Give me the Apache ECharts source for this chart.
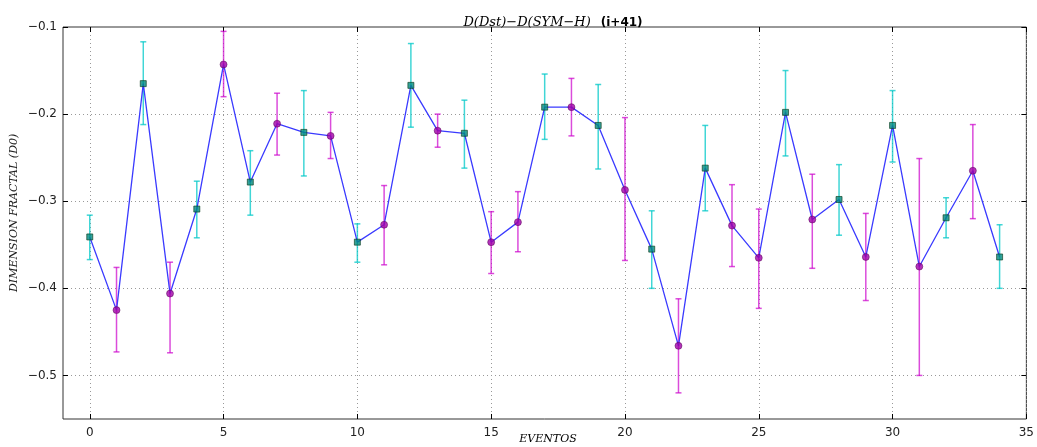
<!DOCTYPE html>
<html>
<head>
<meta charset="utf-8">
<script src="https://cdn.jsdelivr.net/npm/echarts@6/dist/echarts.min.js"></script>
<style>
html, body { margin: 0; padding: 0; background: #fff; }
#chart { width: 1037px; height: 447px; }
</style>
</head>
<body>
<div id="chart"></div>
<script>
// datos
var eventos = [0,1,2,3,4,5,6,7,8,9,10,11,12,13,14,15,16,17,18,19,20,21,22,23,24,25,26,27,28,29,30,31,32,33,34];
var d0 = [-0.341,-0.425,-0.165,-0.406,-0.309,-0.143,-0.278,-0.211,-0.221,-0.225,
          -0.347,-0.327,-0.167,-0.219,-0.222,-0.347,-0.324,-0.192,-0.192,-0.213,
          -0.287,-0.355,-0.466,-0.262,-0.328,-0.365,-0.198,-0.321,-0.298,-0.364,
          -0.213,-0.375,-0.319,-0.265,-0.364];
var errSup = [-0.316,-0.376,-0.117,-0.370,-0.277,-0.105,-0.242,-0.176,-0.173,-0.198,
              -0.326,-0.282,-0.119,-0.200,-0.184,-0.312,-0.289,-0.154,-0.159,-0.166,
              -0.204,-0.311,-0.412,-0.213,-0.281,-0.309,-0.150,-0.269,-0.258,-0.314,
              -0.173,-0.251,-0.296,-0.212,-0.327];
var errInf = [-0.367,-0.473,-0.212,-0.474,-0.342,-0.180,-0.316,-0.247,-0.271,-0.251,
              -0.370,-0.373,-0.215,-0.238,-0.262,-0.383,-0.358,-0.229,-0.225,-0.263,
              -0.368,-0.400,-0.520,-0.311,-0.375,-0.423,-0.248,-0.377,-0.339,-0.414,
              -0.255,-0.500,-0.342,-0.320,-0.400];
// 1 = cian (cuadrado), 0 = magenta (circulo)
var tipo = [1,0,1,0,1,0,1,0,1,0,1,0,1,0,1,0,0,1,0,1,0,1,0,1,0,0,1,0,1,0,1,0,1,0,1];
var xTicks = [0,5,10,15,20,25,30,35];
var yTicks = [-0.5,-0.4,-0.3,-0.2,-0.1];

var chart = echarts.init(document.getElementById('chart'));

var cian = [], magenta = [], barras = [], linea = [];
for (var i = 0; i < eventos.length; i++) {
    linea.push([eventos[i], d0[i]]);
    if (tipo[i] == 1) cian.push([eventos[i], d0[i]]);
    else magenta.push([eventos[i], d0[i]]);
    barras.push([eventos[i], errInf[i], errSup[i], tipo[i]]);
}

var fmt = function(v) {
    return String(v).replace('-', '\u2212');
};

var rejilla = { show: true, lineStyle: { color: '#999', type: [1, 3] } };
var sinLinea = { show: false, onZero: false };

option = {
    backgroundColor: '#fff',
    animation: false,
    title: {
        text: '{m|D(Dst)\u2212D(SYM\u2212H)}  {n|(i+41)}',
        left: 548, top: 9, textAlign: 'center',
        textStyle: {
            rich: {
                m: { fontFamily: 'DejaVu Serif', fontStyle: 'italic', fontWeight: 'normal', fontSize: 13, color: '#000' },
                n: { fontFamily: 'DejaVu Sans', fontWeight: 'bold', fontSize: 12, color: '#000' }
            }
        }
    },
    grid: {
        left: 63, right: 5, top: 27, bottom: 28,
        show: true, borderColor: '#333', borderWidth: 1, backgroundColor: '#fff'
    },
    xAxis: [
        { type: 'value', min: -1, max: 35,
          axisLine: sinLinea,
          axisTick: { inside: true, length: 5, customValues: xTicks, lineStyle: { color: '#000' } },
          splitLine: rejilla,
          axisLabel: { customValues: xTicks, color: '#222', fontFamily: 'DejaVu Sans', fontSize: 12, margin: 8,
                       formatter: fmt } },
        { type: 'value', min: -1, max: 35, position: 'top',
          axisLine: sinLinea, axisLabel: { show: false }, splitLine: { show: false },
          axisTick: { inside: true, length: 5, customValues: xTicks, lineStyle: { color: '#000' } } }],
    yAxis: [
        { type: 'value', min: -0.55, max: -0.1,
          axisLine: sinLinea,
          axisTick: { inside: true, length: 5, customValues: yTicks, lineStyle: { color: '#000' } },
          splitLine: rejilla,
          axisLabel: { customValues: yTicks, color: '#222', fontFamily: 'DejaVu Sans', fontSize: 12, margin: 6,
                       formatter: function(v) { return fmt(v.toFixed(1)); } } },
        { type: 'value', min: -0.55, max: -0.1, position: 'right',
          axisLine: sinLinea, axisLabel: { show: false }, splitLine: { show: false },
          axisTick: { inside: true, length: 5, customValues: yTicks, lineStyle: { color: '#000' } } }],
    graphic: [
        { type: 'text', x: 548, y: 434, style: {
            text: 'EVENTOS', font: 'italic 11px "DejaVu Serif"', fill: '#000', align: 'center' } },
        { type: 'text', x: 9, y: 292, rotation: Math.PI / 2, style: {
            text: 'DIMENSION FRACTAL (D0)', font: 'italic 11px "DejaVu Serif"', fill: '#222' } }
    ],
    series: [
        {
            type: 'custom',
            data: barras,
            z: 2,
            renderItem: function(params, api) {
                var x = api.value(0);
                var p1 = api.coord([x, api.value(1)]);
                var p2 = api.coord([x, api.value(2)]);
                var col = api.value(3) == 1 ? 'rgba(0,200,200,0.75)' : 'rgba(204,0,204,0.7)';
                var c = 3;
                return {
                    type: 'group',
                    children: [
                        { type: 'line', shape: { x1: p1[0], y1: p1[1], x2: p2[0], y2: p2[1] }, style: { stroke: col, lineWidth: 1.5 } },
                        { type: 'line', shape: { x1: p1[0] - c, y1: p1[1], x2: p1[0] + c, y2: p1[1] }, style: { stroke: col, lineWidth: 1.5 } },
                        { type: 'line', shape: { x1: p2[0] - c, y1: p2[1], x2: p2[0] + c, y2: p2[1] }, style: { stroke: col, lineWidth: 1.5 } }
                    ]
                };
            }
        },
        {
            type: 'line',
            data: linea,
            z: 3,
            showSymbol: false,
            symbol: 'none',
            lineStyle: { color: '#3a3aff', width: 1.3 }
        },
        {
            type: 'scatter',
            data: cian,
            z: 4,
            symbol: 'rect',
            symbolSize: 6,
            itemStyle: { color: '#008a80', borderColor: '#0a3a1a', borderWidth: 0.8 }
        },
        {
            type: 'scatter',
            data: magenta,
            z: 4,
            symbol: 'circle',
            symbolSize: 7,
            itemStyle: { color: '#a000a8', borderColor: '#500050', borderWidth: 0.6 }
        }
    ]
};
chart.setOption(option);

window.addEventListener('resize', function() {
    chart.resize()
})
</script>
</body>
</html>
